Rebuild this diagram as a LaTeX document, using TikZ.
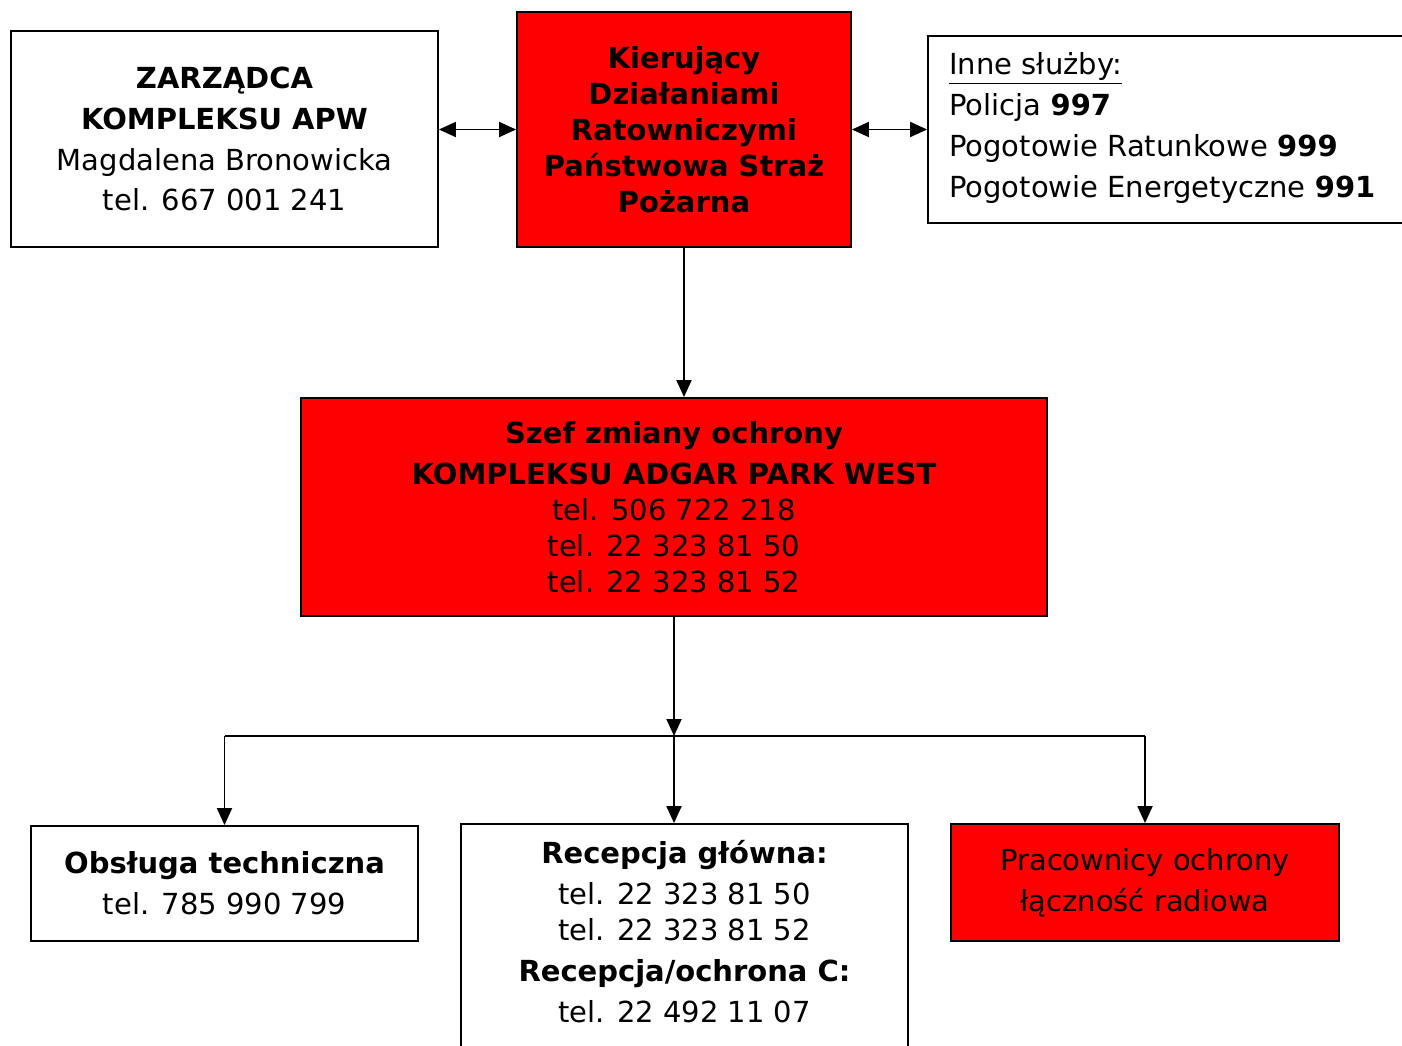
\documentclass[tikz,border=0pt]{standalone}
\usepackage{fontspec}
\setmainfont{DejaVu Sans}
\usetikzlibrary{arrows.meta}

\tikzset{
  box/.style={draw, line width=1.1pt, align=center, inner sep=0pt},
  redbox/.style={box, fill=red},
  wide/.style={font=\fontsize{16.5}{23.3}\selectfont},
  tight/.style={font=\fontsize{16.5}{20.5}\selectfont},
  >={Triangle[length=0.34cm,width=0.3cm]}
}

\begin{document}
\begin{tikzpicture}[x=0.02cm,y=-0.02cm]
\useasboundingbox (0,0) rectangle (1402,1045);

\node (Z) at (224.5,139) [box, wide, minimum width=8.54cm, minimum height=4.32cm]{\textbf{ZARZĄDCA}\\\textbf{KOMPLEKSU APW}\\Magdalena Bronowicka\\tel. 667 001 241};

\node (K) at (684,129.5) [redbox, tight, minimum width=6.68cm, minimum height=4.70cm]{\textbf{Kierujący}\\\textbf{Działaniami}\\\textbf{Ratowniczymi}\\\textbf{Państwowa Straż}\\\textbf{Pożarna}};

\node (S) at (1179,129.5) [box, minimum width=10.04cm, minimum height=3.74cm]{};
\node (S-1) at (949,128) [anchor=west, align=left, inner sep=0pt, wide]{\underline{Inne służby:}\\Policja \textbf{997}\\Pogotowie Ratunkowe \textbf{999}\\Pogotowie Energetyczne \textbf{991}};

\node (O) at (674,507) [redbox, tight, minimum width=14.92cm, minimum height=4.36cm]{\textbf{Szef zmiany ochrony}\\[2.85pt]\textbf{KOMPLEKSU ADGAR PARK WEST}\\tel. 506 722 218\\tel. 22 323 81 50\\tel. 22 323 81 52};

\node (T) at (224.5,883.5) [box, wide, minimum width=7.74cm, minimum height=2.30cm]{\textbf{Obsługa techniczna}\\tel. 785 990 799};

\node (R) at (684.5,952) [box, minimum width=8.94cm, minimum height=5.12cm]{};
\node (R-1) at (684.5,932) [align=center, inner sep=0pt, tight]{\textbf{Recepcja główna:}\\[2.85pt]tel. 22 323 81 50\\tel. 22 323 81 52\\[2.85pt]\textbf{Recepcja/ochrona C:}\\[2.85pt]tel. 22 492 11 07};

\node (P) at (1145,882.5) [redbox, wide, minimum width=7.76cm, minimum height=2.34cm]{Pracownicy ochrony\\łączność radiowa};

\draw [<->, line width=1.1pt] (Z.east |- K.west) -- (K.west);
\draw [<->, line width=1.1pt] (K.east) -- (S.west);
\draw [->, line width=1.1pt] (K.south) -- (K.south |- O.north);

\coordinate (bus) at (674,736);
\coordinate (bus-l) at (T.north |- bus);
\coordinate (bus-r) at (P.north |- bus);

\draw [->, line width=1.1pt] (O.south -| bus) -- (bus);
\draw [line width=1.1pt] (bus-l) -- (bus-r);
\draw [->, line width=1.1pt] (bus-l) -- (T.north);
\draw [->, line width=1.1pt] (bus) -- (bus |- R.north);
\draw [->, line width=1.1pt] (bus-r) -- (P.north);

\end{tikzpicture}
\end{document}
